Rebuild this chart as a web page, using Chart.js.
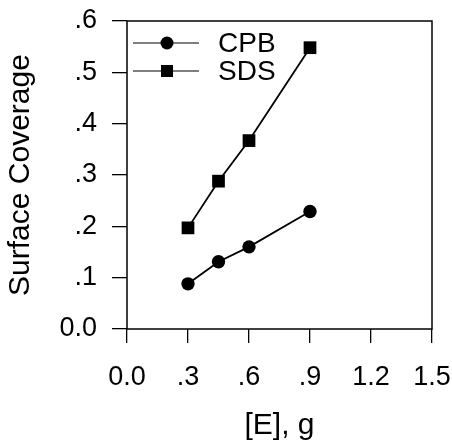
<!DOCTYPE html>
<html>
<head>
<meta charset="utf-8">
<script src="https://cdn.jsdelivr.net/npm/chart.js@4"></script>
<style>
  html, body { margin: 0; padding: 0; background: #fff; }
  #wrap { width: 452px; height: 444px; }
</style>
</head>
<body>
<div id="wrap"><canvas id="chart" width="452" height="444"></canvas></div>
<script>
// data
const amountE = [0.3, 0.45, 0.6, 0.9];
const cpbCoverage = [0.088, 0.131, 0.16, 0.229];
const sdsCoverage = [0.197, 0.288, 0.367, 0.548];
const seriesNames = ["CPB", "SDS"];
const xTickLabels = ["0.0", ".3", ".6", ".9", "1.2", "1.5"];
const yTickLabels = ["0.0", ".1", ".2", ".3", ".4", ".5", ".6"];

const FONT = "'Liberation Sans', Arial, sans-serif";

// 1) setup
const toPoints = (xs, ys) => xs.map((x, i) => ({ x: x, y: ys[i] }));

const chart_data = {
  datasets: [
    {
      label: seriesNames[0],
      data: toPoints(amountE, cpbCoverage),
      pointStyle: "circle",
      pointRadius: 6.7,
    },
    {
      label: seriesNames[1],
      data: toPoints(amountE, sdsCoverage),
      pointStyle: "rect",
      pointRadius: 9,
    },
  ].map((d) => ({
    ...d,
    showLine: true,
    borderColor: "#000",
    backgroundColor: "#000",
    borderWidth: 1.8,
    pointBackgroundColor: "#000",
    pointBorderColor: "#000",
    pointBorderWidth: 0,
  })),
};

// frame round the plot area
const frameBox = {
  id: "frameBox",
  beforeDatasetsDraw(chart) {
    const { ctx, chartArea: { left, right, top, bottom } } = chart;
    ctx.save();
    ctx.strokeStyle = "#000";
    ctx.lineWidth = 1.5;
    ctx.strokeRect(left, top, right - left, bottom - top);
    ctx.restore();
  },
};

// legend with line + marker, inside the plot area
const lineLegend = {
  id: "lineLegend",
  afterDatasetsDraw(chart) {
    const { ctx, chartArea: { left, top } } = chart;
    ctx.save();
    chart.data.datasets.forEach((ds, i) => {
      const y = top + 22 + i * 28;
      const x0 = left + 6;
      const x1 = left + 72;
      const xm = left + 40;
      ctx.strokeStyle = "#000";
      ctx.lineWidth = 1.2;
      ctx.beginPath();
      ctx.moveTo(x0, y);
      ctx.lineTo(x1, y);
      ctx.stroke();
      ctx.fillStyle = "#000";
      if (ds.pointStyle === "circle") {
        ctx.beginPath();
        ctx.arc(xm, y, 6.5, 0, Math.PI * 2);
        ctx.fill();
      } else {
        ctx.fillRect(xm - 6, y - 6, 12, 12);
      }
      ctx.font = "28px " + FONT;
      ctx.textAlign = "left";
      ctx.textBaseline = "middle";
      ctx.fillText(ds.label, left + 91, y + 1);
    });
    ctx.restore();
  },
};

// drop the label-overflow padding, the layout padding handles it
const noOverflow = (s) => {
  s.paddingTop = 0;
  s.paddingBottom = 0;
  s.paddingLeft = 0;
  s.paddingRight = 0;
};

// 2) config
const chart_config = {
  type: "scatter",
  data: chart_data,
  plugins: [frameBox, lineLegend],
  options: {
    responsive: false,
    animation: false,
    layout: {
      padding: { top: 21, right: 20, left: 0, bottom: 0 },
    },
    scales: {
      x: {
        type: "linear",
        min: 0,
        max: 1.5,
        afterFit: (s) => {
          s.height = 115;
          noOverflow(s);
        },
        border: { display: false },
        grid: {
          drawOnChartArea: false,
          drawTicks: true,
          tickLength: 14,
          color: "#000",
          lineWidth: 1.3,
        },
        ticks: {
          stepSize: 0.3,
          padding: 18,
          color: "#000",
          maxRotation: 0,
          font: { family: FONT, size: 27 },
          callback: (v, i) => xTickLabels[i],
        },
        title: {
          display: true,
          text: "[E], g",
          color: "#000",
          padding: { top: 0, bottom: 0 },
          font: { family: FONT, size: 30 },
        },
      },
      y: {
        type: "linear",
        min: 0,
        max: 0.6,
        afterFit: (s) => {
          s.width = 127;
          noOverflow(s);
        },
        border: { display: false },
        grid: {
          drawOnChartArea: false,
          drawTicks: true,
          tickLength: 15,
          color: "#000",
          lineWidth: 1.3,
        },
        ticks: {
          stepSize: 0.1,
          padding: 15,
          color: "#000",
          font: { family: FONT, size: 27 },
          callback: (v, i) => yTickLabels[i],
        },
        title: {
          display: true,
          text: "Surface Coverage",
          color: "#000",
          padding: { top: 3, bottom: 0 },
          font: { family: FONT, size: 30 },
        },
      },
    },
    plugins: {
      legend: { display: false },
      tooltip: { enabled: false },
    },
  },
};

// 3) render chart
const ctx = document.getElementById("chart").getContext("2d");
const myChart = new Chart(ctx, chart_config);
</script>
</body>
</html>
